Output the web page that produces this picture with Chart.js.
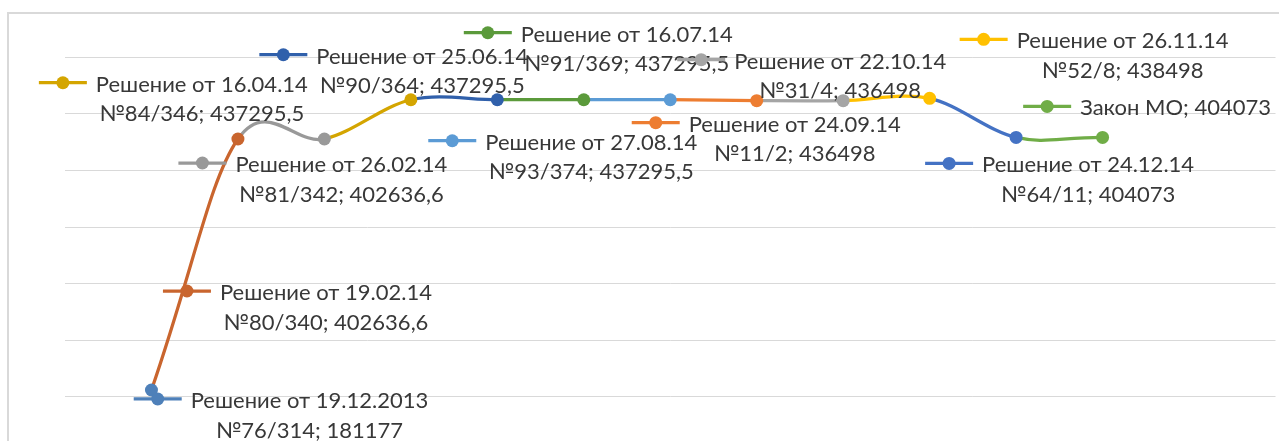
<!DOCTYPE html>
<html>
<head>
<meta charset="utf-8">
<script src="https://cdn.jsdelivr.net/npm/chart.js@4.4.1/dist/chart.umd.min.js"></script>
<style>
  html, body { margin: 0; padding: 0; background: #fff; overflow: hidden; }
  #wrap { width: 1279px; height: 441px; overflow: hidden; }
</style>
</head>
<body>
<div id="wrap"><canvas id="chart" width="1282" height="441"></canvas></div>
<script>
// --- data ---
const decisions = [
  'Решение от 19.12.2013', 'Решение от 19.02.14', 'Решение от 26.02.14', 'Решение от 16.04.14',
  'Решение от 25.06.14', 'Решение от 16.07.14', 'Решение от 27.08.14', 'Решение от 24.09.14',
  'Решение от 22.10.14', 'Решение от 26.11.14', 'Решение от 24.12.14', 'Закон МО'
];
const docNumbers = [
  '№76/314', '№80/340', '№81/342', '№84/346', '№90/364', '№91/369',
  '№93/374', '№11/2', '№31/4', '№52/8', '№64/11', ''
];
const values = [
  181177, 402636.6, 402636.6, 437295.5, 437295.5, 437295.5,
  437295.5, 436498, 436498, 438498, 404073, 404073
];
const gridValues = [175000, 225000, 275000, 325000, 375000, 425000, 475000];

// colours per point (segment into a point takes its colour)
const pointColors = [
  '#4e80b9', '#c9652e', '#999999', '#d4a500', '#3060ab', '#5b9a3b',
  '#5b9bd5', '#ed7d31', '#a5a5a5', '#ffc000', '#4472c4', '#70ad47'
];
// where each label sits relative to its point: [dx to text centre, dy to first line]
const labelOffsets = [
  [158, 10], [88, 153], [17, 25], [-209, -16], [-75, -44], [43, -66],
  [-79, 42], [38, 23], [-3, -40], [193, -58], [72, 27], [73, -30]
];

const LABEL_FONT = '22px Lato, "Noto Sans", sans-serif';
const LINE_GAP = 29.5;

// Excel-like smoothing (Catmull-Rom, 1/6 inside, longer tangent at the ends)
const excelSmooth = {
  id: 'excelSmooth',
  beforeDatasetDraw(chart, args) {
    const meta = args.meta;
    const pts = meta.data;
    const last = pts.length - 1;
    pts.forEach((p, i) => {
      let ddx, ddy;
      if (i === 0) {
        ddx = (pts[1].x - p.x) / 2; ddy = (pts[1].y - p.y) / 2;
      } else if (i === last) {
        ddx = (p.x - pts[i - 1].x) / 2; ddy = (p.y - pts[i - 1].y) / 2;
      } else {
        ddx = (pts[i + 1].x - pts[i - 1].x) / 6;
        ddy = (pts[i + 1].y - pts[i - 1].y) / 6;
      }
      p.cp1x = p.x - ddx; p.cp1y = p.y - ddy;
      p.cp2x = p.x + ddx; p.cp2y = p.y + ddy;
    });
    meta.dataset._pointsUpdated = true;
  }
};

const frame = {
  id: 'frame',
  beforeDraw(chart) {
    const ctx = chart.ctx;
    ctx.save();
    ctx.strokeStyle = '#d9d9d9';
    ctx.lineWidth = 2;
    ctx.strokeRect(8, 13, 1600, 800);
    ctx.restore();
  }
};

const pointLabels = {
  id: 'pointLabels',
  afterDatasetsDraw(chart) {
    const ctx = chart.ctx;
    const pts = chart.getDatasetMeta(0).data;
    ctx.save();
    ctx.font = LABEL_FONT;
    ctx.textAlign = 'center';
    ctx.textBaseline = 'middle';
    pts.forEach((p, i) => {
      const [dx, dy] = labelOffsets[i];
      const cx = p.x + dx, y1 = p.y + dy;
      const val = String(values[i]).replace('.', ',');
      const lines = docNumbers[i]
        ? [decisions[i], docNumbers[i] + '; ' + val]
        : [decisions[i] + '; ' + val];
      const w = ctx.measureText(lines[0]).width;
      const kx = cx - w / 2 - 9 - 24, ky = y1 - 1;

      // legend key
      ctx.strokeStyle = pointColors[i];
      ctx.lineWidth = 3.25;
      ctx.beginPath();
      ctx.moveTo(kx - 24, ky);
      ctx.lineTo(kx + 24, ky);
      ctx.stroke();
      ctx.fillStyle = pointColors[i];
      ctx.beginPath();
      ctx.arc(kx, ky, 6.5, 0, Math.PI * 2);
      ctx.fill();

      ctx.fillStyle = '#383838';
      lines.forEach((t, j) => ctx.fillText(t, cx, y1 + 1 + j * LINE_GAP));
    });
    ctx.restore();
  }
};

new Chart(document.getElementById('chart'), {
  type: 'line',
  data: {
    datasets: [{
      data: values.map((v, i) => ({ x: i + 1, y: v })),
      borderColor: pointColors[0],
      borderWidth: 3.25,
      borderCapStyle: 'round',
      borderJoinStyle: 'round',
      tension: 0.4,
      pointRadius: 6.5,
      pointHoverRadius: 6.5,
      pointBorderWidth: 0,
      pointBackgroundColor: pointColors,
      segment: { borderColor: c => pointColors[c.p1DataIndex] }
    }]
  },
  options: {
    responsive: false,
    animation: false,
    events: [],
    layout: { padding: { left: 65, right: 0, top: 28.67, bottom: 15.67 } },
    plugins: { legend: { display: false }, tooltip: { enabled: false } },
    scales: {
      x: { type: 'linear', min: 0, max: 14, display: false },
      y: {
        min: 150000,
        max: 500000,
        afterBuildTicks: s => { s.ticks = gridValues.map(v => ({ value: v })); },
        ticks: { display: false },
        grid: { color: '#d9d9d9', lineWidth: 1, drawTicks: false },
        border: { display: false }
      }
    }
  },
  plugins: [frame, excelSmooth, pointLabels]
});
</script>
</body>
</html>
